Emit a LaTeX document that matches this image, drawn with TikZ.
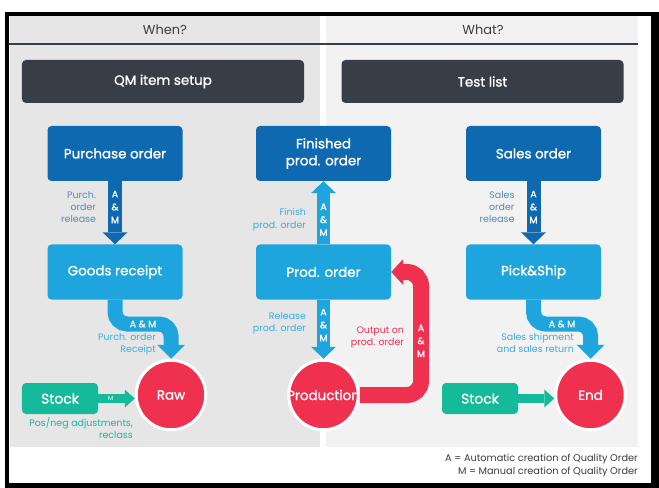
\documentclass[tikz,border=0pt]{standalone}
\usepackage{fontspec}
\setmainfont{Poppins}
\newfontfamily\medfont{Poppins}[FakeBold=1.2]
\usetikzlibrary{arrows.meta}
\definecolor{slate}{HTML}{373E48}
\definecolor{darkblue}{HTML}{0F69B1}
\definecolor{lightblue}{HTML}{1EA5DD}
\definecolor{rawred}{HTML}{F0304F}
\definecolor{stockgreen}{HTML}{14BA9A}
\definecolor{panelA}{HTML}{E6E6E6}
\definecolor{panelB}{HTML}{F2F2F2}
\definecolor{darktext}{HTML}{5587C4}
\definecolor{lighttext}{HTML}{3AADE2}
\definecolor{greytext}{HTML}{3C3C3C}
\tikzset{
  stepbox/.style={rectangle, rounded corners=4bp, fill=#1, text=white, minimum width=135bp, minimum height=55bp, align=center, inner sep=0pt, font=\medfont\fontsize{13.5}{17}\selectfont},
  headbox/.style={rectangle, rounded corners=4bp, fill=slate, text=white, minimum width=282bp, minimum height=43bp, inner sep=0pt, font=\medfont\fontsize{13.5}{16}\selectfont},
  stockbox/.style={rectangle, rounded corners=4bp, fill=stockgreen, text=white, minimum width=76bp, minimum height=31bp, inner sep=0pt, font=\medfont\fontsize{14}{16}\selectfont},
  endpoint/.style={circle, fill=rawred, draw=white, line width=3bp, minimum size=69.5bp, inner sep=0pt},
  circletext/.style={text=white, inner sep=0pt, font=\medfont\fontsize{13.5}{16}\selectfont},
  tag/.style={text=white, align=center, inner sep=0pt, font=\medfont\fontsize{9.5}{13}\selectfont},
  sidenote/.style={align=right, inner sep=0pt, font=\fontsize{9.5}{12.5}\selectfont},
  darkflow/.style={draw=darkblue, line width=14bp, -{Triangle[width=25bp,length=12bp,line width=0pt]}},
  lightflow/.style={draw=lightblue, line width=13bp, -{Triangle[width=25bp,length=12bp,line width=0pt]}},
  bendflow/.style={draw=lightblue, line width=15bp, rounded corners=12bp, -{Triangle[width=28bp,length=14bp,line width=0pt]}},
  redflow/.style={draw=rawred, line width=16bp, rounded corners=14bp, -{Triangle[width=26bp,length=12bp,line width=0pt]}},
  stockflow/.style={draw=stockgreen, line width=9bp, -{Triangle[width=18bp,length=10bp,line width=0pt]}}
}
\begin{document}
\begin{tikzpicture}[x=1bp,y=-1bp]
	\useasboundingbox (0,0) rectangle (659,488);
	\fill[black] (5,12) rectangle (659,488);
	\fill[white] (9,16) rectangle (651,483);
	\fill[panelA] (10,16) rectangle (320,447);
	\fill[panelB] (326,16) rectangle (638,447);
	\draw[slate, line width=1.2bp] (9,44) -- (638,44);
	\node[text=greytext, font=\fontsize{13}{15}\selectfont] (when) at (165,30) {When?};
	\node[text=greytext, font=\fontsize{13}{15}\selectfont] (what) at (483,30) {What?};
	\node[headbox] (qm) at (163,81.5) {QM item setup};
	\node[headbox] (tests) at (482.5,81.5) {Test list};
	\node[stepbox=darkblue] (po) at (115,153.5) {Purchase order};
	\node[stepbox=lightblue] (gr) at (115,272) {Goods receipt};
	\node[stepbox=darkblue] (fin) at (323.5,153.5) {Finished\\prod. order};
	\node[stepbox=lightblue] (prodord) at (323.5,272) {Prod. order};
	\node[stepbox=darkblue] (so) at (533.5,153.5) {Sales order};
	\node[stepbox=lightblue] (pick) at (533.5,272) {Pick\&Ship};
	\node[endpoint, label={[circletext]center:Raw}] (raw) at (171,395) {};
	\node[endpoint, label={[circletext]center:Production}] (prodn) at (323.5,395) {};
	\node[endpoint, label={[circletext]center:End}] (end) at (590.5,395) {};
	\node[stockbox] (stockL) at (60,398.5) {Stock};
	\node[stockbox] (stockR) at (480,398.5) {Stock};
	\coordinate (grturn) at (171,324);
	\coordinate (pickturn) at (590.5,324);
	\coordinate (loopturn) at (421,272);
	\draw[darkflow] (po) -- (gr)
		node[tag, pos=0.41] {A\\\&\\M}
		node[sidenote, text=darktext, pos=0.41, left=12bp] {Purch.\\order\\release};
	\draw[darkflow] (so) -- (pick)
		node[tag, pos=0.41] {A\\\&\\M}
		node[sidenote, text=darktext, pos=0.41, left=12bp] {Sales\\order\\release};
	\draw[lightflow] (prodord) -- (fin)
		node[tag, pos=0.39] {A\\\&\\M}
		node[sidenote, text=lighttext, pos=0.39, left=11bp] {Finish\\prod. order};
	\draw[lightflow] (prodord) -- (prodn)
		node[tag, pos=0.43] {A\\\&\\M}
		node[sidenote, text=lighttext, pos=0.40, left=11bp] {Release\\prod. order};
	\draw[bendflow] (gr.south) |- (grturn) node[tag, pos=0.75] {A \& M} -- (raw);
	\draw[bendflow] (pick.south) |- (pickturn) node[tag, pos=0.75] {A \& M} -- (end);
	\node[sidenote, text=lighttext, anchor=north east] (grnote) at (156,333) {Purch. order\\Receipt};
	\node[sidenote, text=lighttext, anchor=north east] (picknote) at (574,333) {Sales shipment\\and sales return};
	\draw[redflow] (prodn) -- (prodn -| loopturn) -- (loopturn)
		node[tag, pos=0.44] {A\\\&\\M}
		node[sidenote, text=rawred, pos=0.47, left=9bp] {Output on\\prod. order}
		-- (prodord);
	\draw[stockflow] (stockL.east) -- (stockL.east -| raw.west)
		node[tag, pos=0.34, font=\fontsize{6}{7}\selectfont] {M};
	\draw[stockflow] (stockR.east) -- (stockR.east -| end.west);
	\node[sidenote, text=stockgreen, anchor=north east] (adjnote) at (133,417) {Pos/neg adjustments,\\reclass};
	\node[sidenote, text=greytext, anchor=east, font=\fontsize{9.8}{13}\selectfont] (key) at (638,465.5) {A = Automatic creation of Quality Order\\M = Manual creation of Quality Order};
\end{tikzpicture}
\end{document}
